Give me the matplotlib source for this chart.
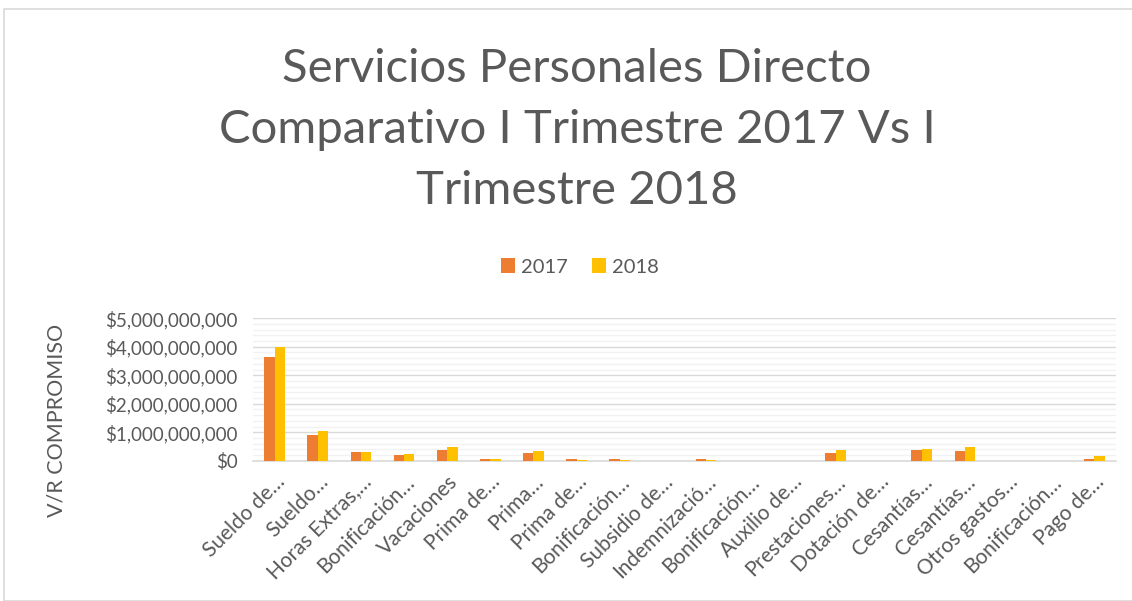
import matplotlib
matplotlib.use("Agg")
import matplotlib.pyplot as plt
import numpy as np
from matplotlib.ticker import MultipleLocator, FuncFormatter
from matplotlib.patches import Rectangle

categories = ["Sueldo de…", "Sueldo…", "Horas Extras,…", "Bonificación…", "Vacaciones",
              "Prima de…", "Prima…", "Prima de…", "Bonificación…", "Subsidio de…",
              "Indemnizació…", "Bonificación…", "Auxilio de…", "Prestaciones…", "Dotación de…",
              "Cesantías…", "Cesantías…", "Otros gastos…", "Bonificación…", "Pago de…"]
v2017 = [3.65e9, 0.91e9, 0.32e9, 0.19e9, 0.36e9, 0.05e9, 0.28e9, 0.05e9, 0.05e9, 0,
         0.05e9, 0, 0, 0.28e9, 0, 0.37e9, 0.33e9, 0, 0, 0.05e9]
v2018 = [3.98e9, 1.04e9, 0.32e9, 0.23e9, 0.47e9, 0.05e9, 0.33e9, 0.04e9, 0.04e9, 0,
         0.04e9, 0, 0, 0.37e9, 0, 0.42e9, 0.47e9, 0, 0, 0.15e9]
series_names = ["2017", "2018"]
title = "Servicios Personales Directo\nComparativo I Trimestre 2017 Vs I\nTrimestre 2018"

plt.rcParams['font.family'] = ['Lato', 'DejaVu Sans']
gray = "#595959"

W, H = 1132, 601
fig = plt.figure(figsize=(W/100, H/100), dpi=100)
fig.patches.append(Rectangle((4/W, 0), 1.2, 1-9/H, transform=fig.transFigure,
                             fill=False, edgecolor="#d9d9d9", linewidth=1.2))

ax = fig.add_axes([253/W, 1-460.7/H, (1116-253)/W, (460.7-318.3)/H])
x = np.arange(len(categories))
bw = 0.24
ax.bar(x - bw/2, v2017, bw, color="#ED7D31", label=series_names[0], zorder=3)
ax.bar(x + bw/2, v2018, bw, color="#FFC000", label=series_names[1], zorder=3)
ax.set_xlim(-0.5, len(categories) - 0.5)
ax.set_ylim(0, 5e9)
ax.yaxis.set_major_locator(MultipleLocator(1e9))
ax.yaxis.set_minor_locator(MultipleLocator(2e8))
ax.yaxis.set_major_formatter(FuncFormatter(lambda v, p: "${:,.0f}".format(v)))
ax.grid(axis='y', which='major', color="#d9d9d9", linewidth=1.0, zorder=0)
ax.grid(axis='y', which='minor', color="#f2f2f2", linewidth=1.0, zorder=0)
for s in ["top", "right", "left"]:
    ax.spines[s].set_visible(False)
ax.spines["bottom"].set_color("#d9d9d9")
ax.spines["bottom"].set_linewidth(1.2)
ax.tick_params(axis='both', which='both', length=0)
ax.tick_params(axis='y', labelsize=13.5, labelcolor=gray, pad=11)
ax.set_xticks(x)
ax.set_xticklabels(categories, rotation=45, ha='right', rotation_mode='anchor',
                   fontsize=15, color=gray)
ax.tick_params(axis='x', pad=8)

fig.text(57/W, 1-420/H, "V/R COMPROMISO", rotation=90, ha='center', va='center',
         fontsize=15.5, color=gray)

fig.text(577/W, 1-130/H, title, ha='center', va='center', fontsize=34, color=gray,
         fontweight='normal', linespacing=1.56)
leg = fig.legend(loc='center', bbox_to_anchor=(580/W, 1-267/H), ncol=2, frameon=False,
                 fontsize=14.5, handlelength=0.7, handleheight=0.7, handletextpad=0.3,
                 columnspacing=1.2)
for t in leg.get_texts():
    t.set_color(gray)

fig.savefig("out.png", dpi=100)
